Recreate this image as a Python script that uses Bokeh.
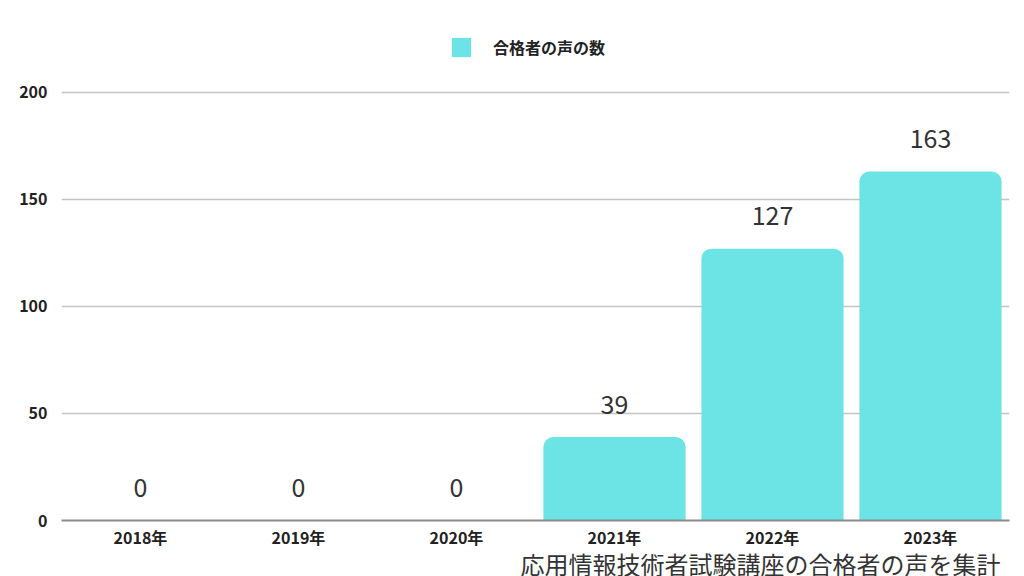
from bokeh.plotting import figure
from bokeh.models import ColumnDataSource, Legend, LegendItem, Title, FixedTicker, Range1d, FactorRange
from bokeh.core.properties import value
from bokeh.embed import file_html
from bokeh.resources import INLINE

years = ["2018年", "2019年", "2020年", "2021年", "2022年", "2023年"]
counts = [0, 0, 0, 39, 127, 163]
value_labels = [str(c) for c in counts]
y_ticks = [0, 50, 100, 150, 200]
series_name = "合格者の声の数"
footnote = "応用情報技術者試験講座の合格者の声を集計"

FONT = "Noto Sans CJK JP"
BAR = "#6ce4e6"

src = ColumnDataSource(dict(x=years, y=counts, t=value_labels))

p = figure(width=1012, height=576, x_range=FactorRange(factors=years, range_padding=0),
           y_range=Range1d(0, 233.6), output_backend="svg", toolbar_location=None,
           min_border_left=61, min_border_right=3, min_border_top=20, min_border_bottom=0)
p.outline_line_color = None
p.background_fill_color = "white"
p.border_fill_color = "white"

r = p.vbar(x="x", top="y", width=0.9, source=src, fill_color=BAR, line_color=None,
           border_radius=(10, 10, 0, 0))

p.text(x="x", y="y", text="t", source=src, text_align="center", text_baseline="middle",
       y_offset=-33, text_font=value(FONT), text_font_size="25px", text_color="#333333")

p.yaxis.ticker = FixedTicker(ticks=y_ticks)
p.yaxis.axis_line_color = None
p.yaxis.major_tick_line_color = None
p.yaxis.minor_tick_line_color = None
p.yaxis.major_label_standoff = 8
p.yaxis.major_label_text_font = FONT
p.yaxis.major_label_text_font_size = "16px"
p.yaxis.major_label_text_font_style = "bold"
p.yaxis.major_label_text_color = "#222222"

p.xaxis.axis_line_color = "#8a8a8a"
p.xaxis.axis_line_width = 2
p.xaxis.major_tick_line_color = None
p.xaxis.minor_tick_line_color = None
p.xaxis.major_tick_out = 0
p.xaxis.major_label_standoff = 4
p.xaxis.major_label_text_font = FONT
p.xaxis.major_label_text_font_size = "16px"
p.xaxis.major_label_text_font_style = "bold"
p.xaxis.major_label_text_color = "#222222"

p.xgrid.grid_line_color = None
p.ygrid.ticker = FixedTicker(ticks=y_ticks)
p.ygrid.grid_line_color = "#c4c4c4"
p.ygrid.grid_line_width = 1.5
p.ygrid.level = "underlay"

legend = Legend(items=[LegendItem(label=series_name, renderers=[r])],
                location=(388, 461), orientation="horizontal",
                glyph_width=24, glyph_height=24, label_standoff=20, padding=0, margin=0,
                border_line_color=None, background_fill_alpha=0,
                label_text_font=FONT, label_text_font_size="16px",
                label_text_font_style="bold", label_text_color="#222222")
p.add_layout(legend, "center")

note = Title(text=footnote, align="right", vertical_align="top", offset=9, standoff=-12,
             text_font=FONT, text_font_size="24px", text_font_style="normal",
             text_color="#333333")
p.add_layout(note, "below")

open("out.html", "w").write(file_html(p, INLINE))
